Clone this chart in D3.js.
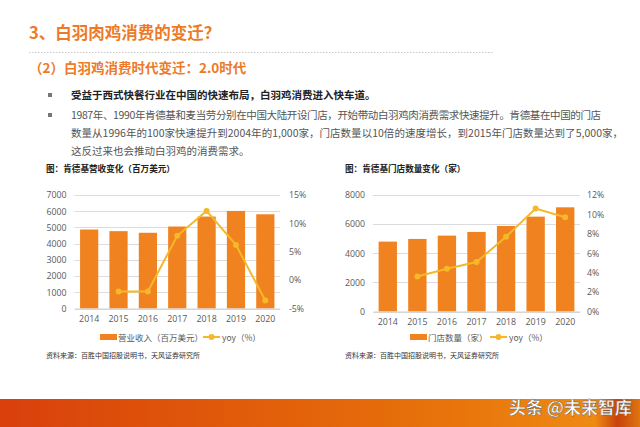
<!DOCTYPE html>
<html><head><meta charset="utf-8">
<script src="https://cdn.jsdelivr.net/npm/d3@7"></script>
<style>
html,body{margin:0;padding:0;background:#fff;}
svg{display:block;font-family:"Noto Sans CJK SC","Noto Sans",sans-serif;}
</style></head>
<body>
<script>
const years = ["2014","2015","2016","2017","2018","2019","2020"];
const revenue = [4870, 4770, 4670, 5055, 5670, 6017, 5810];
const revenueYoy = [null, -2.0, -2.0, 7.8, 12.2, 6.2, -3.6];
const stores = [4800, 4983, 5211, 5463, 5874, 6514, 7154];
const storesYoy = [null, 3.6, 4.4, 5.1, 7.7, 10.6, 9.7];
const revTicks = [0,1000,2000,3000,4000,5000,6000,7000];
const revYoyTicks = [-5,0,5,10,15];
const storeTicks = [0,2000,4000,6000,8000];
const storeYoyTicks = [0,2,4,6,8,10,12];

const W=640,H=427;
const svg=d3.select("body").append("svg").attr("width",W).attr("height",H);
const ORANGE="#ec7a28";
const BAR="#f0821f", LINE="#f5b82a";
const NUMFONT="'Open Sans','Noto Sans',sans-serif";

// header
svg.append("text").attr("x",29).attr("y",39).attr("font-size",16.5).attr("font-weight","bold").attr("fill",ORANGE).text("3、白羽肉鸡消费的变迁？");
svg.append("line").attr("x1",29).attr("x2",494).attr("y1",52.5).attr("y2",52.5).attr("stroke","#c8c8c8").attr("stroke-width",1).attr("stroke-dasharray","1.5,1.5");
svg.append("text").attr("x",29).attr("y",73).attr("font-size",13.5).attr("font-weight","bold").attr("fill",ORANGE).text("（2）白羽鸡消费时代变迁：2.0时代");

// bullets
svg.append("rect").attr("x",48).attr("y",93).attr("width",4).attr("height",4).attr("fill","#777");
svg.append("rect").attr("x",48).attr("y",113).attr("width",4).attr("height",4).attr("fill","#777");
svg.append("text").attr("x",71).attr("y",99).attr("font-size",10.5).attr("font-weight","bold").attr("fill","#222").text("受益于西式快餐行业在中国的快速布局，白羽鸡消费进入快车道。");
const para=["1987年、1990年肯德基和麦当劳分别在中国大陆开设门店，开始带动白羽鸡肉消费需求快速提升。肯德基在中国的门店",
"数量从1996年的100家快速提升到2004年的1,000家，门店数量以10倍的速度增长，到2015年门店数量达到了5,000家，",
"这反过来也会推动白羽鸡的消费需求。"];
const paraLen=[530,552,null];
para.forEach((t,i)=>svg.append("text").attr("x",71).attr("y",119+i*18).attr("font-size",10.5).attr("fill","#555").attr("textLength",paraLen[i]).text(t));

function chart(o){
  const g=svg.append("g");
  g.append("text").attr("x",o.titleX).attr("y",172).attr("font-size",8.6).attr("font-weight","bold").attr("fill","#222").text(o.title);
  const x=d3.scaleBand().domain(years).range([o.x0,o.x1]).paddingInner(0.38).paddingOuter(0.19);
  const y=d3.scaleLinear().domain(o.yDom).range([o.bottom,195]);
  const y2=d3.scaleLinear().domain(o.y2Dom).range([o.bottom,195]);
  g.selectAll(".grid").data(o.yTicks).enter().append("line")
    .attr("x1",o.x0).attr("x2",o.x1).attr("y1",d=>Math.round(y(d))+0.5).attr("y2",d=>Math.round(y(d))+0.5)
    .attr("stroke","#dcdcdc").attr("stroke-width",1);
  const ya=d3.axisLeft(y).tickValues(o.yTicks).tickSize(0).tickPadding(8).tickFormat(d3.format("d"));
  const ag=g.append("g").attr("transform",`translate(${o.x0},0)`).call(ya);
  ag.select(".domain").remove();
  ag.selectAll("text").attr("font-size",8.8).attr("fill","#595959").attr("font-family",NUMFONT);
  const ya2=d3.axisRight(y2).tickValues(o.y2Ticks).tickSize(0).tickPadding(o.rPad).tickFormat(d=>d+"%");
  const ag2=g.append("g").attr("transform",`translate(${o.x1},0)`).call(ya2);
  ag2.select(".domain").remove();
  ag2.selectAll("text").attr("font-size",8.8).attr("fill","#595959").attr("font-family",NUMFONT);
  g.selectAll(".bar").data(o.vals).enter().append("rect")
    .attr("x",(d,i)=>x(years[i])).attr("width",x.bandwidth())
    .attr("y",d=>y(d)).attr("height",d=>o.bottom-y(d)).attr("fill",BAR);
  const xa=d3.axisBottom(x).tickSize(0).tickPadding(7);
  const xg=g.append("g").attr("transform",`translate(0,${o.bottom})`).call(xa);
  xg.select(".domain").attr("stroke","#d0d0d0");
  xg.selectAll("text").attr("font-size",8.8).attr("fill","#595959").attr("font-family",NUMFONT);
  const pts=o.yoy.map((v,i)=>({v,i})).filter(d=>d.v!==null);
  const line=d3.line().x(d=>x(years[d.i])+x.bandwidth()/2).y(d=>y2(d.v));
  g.append("path").datum(pts).attr("d",line).attr("fill","none").attr("stroke",LINE).attr("stroke-width",2);
  g.selectAll(".pt").data(pts).enter().append("circle")
    .attr("cx",d=>x(years[d.i])+x.bandwidth()/2).attr("cy",d=>y2(d.v)).attr("r",3).attr("fill",LINE);
  g.append("rect").attr("x",o.lg[0]).attr("y",334).attr("width",17).attr("height",6).attr("fill",BAR);
  g.append("text").attr("x",o.lg[0]+18).attr("y",340.5).attr("font-size",8.5).attr("fill","#595959").text(o.legName);
  g.append("line").attr("x1",o.lg[1]).attr("x2",o.lg[1]+17).attr("y1",337).attr("y2",337).attr("stroke",LINE).attr("stroke-width",2);
  g.append("circle").attr("cx",o.lg[1]+8.5).attr("cy",337).attr("r",3).attr("fill",LINE);
  g.append("text").attr("x",o.lg[1]+19).attr("y",340.5).attr("font-size",8.5).attr("fill","#595959").text("yoy（%）");
  g.append("text").attr("x",o.titleX).attr("y",358).attr("font-size",7).attr("fill","#333").text("资料来源：百胜中国招股说明书，天风证券研究所");
}

chart({title:"图：肯德基营收变化（百万美元）",titleX:46,x0:74.5,x1:280,bottom:308.5,
  yDom:[0,7000],yTicks:revTicks,y2Dom:[-5,15],y2Ticks:revYoyTicks,rPad:9,
  vals:revenue,yoy:revenueYoy,legName:"营业收入（百万美元）",lg:[100,203]});
chart({title:"图：肯德基门店数量变化（家）",titleX:345,x0:373,x1:580,bottom:311.5,
  yDom:[0,8000],yTicks:storeTicks,y2Dom:[0,12],y2Ticks:storeYoyTicks,rPad:7,
  vals:stores,yoy:storesYoy,legName:"门店数量（家）",lg:[410,490]});

// footer
const defs=svg.append("defs");
const gr=defs.append("linearGradient").attr("id","ft").attr("x1","0").attr("x2","1");
[[0,"#d9400c"],[0.35,"#e05a0a"],[0.7,"#e8730b"],[0.93,"#ee8a12"],[0.965,"#c8420c"],[1,"#e07510"]].forEach(s=>gr.append("stop").attr("offset",s[0]).attr("stop-color",s[1]));
svg.append("rect").attr("x",0).attr("y",399).attr("width",W).attr("height",28).attr("fill","url(#ft)");
svg.append("text").attr("x",509).attr("y",414).attr("font-size",17).attr("fill","#fff").attr("stroke","#555").attr("stroke-width",0.4).attr("font-weight","bold").text("头条 @未来智库");
</script>
</body></html>
